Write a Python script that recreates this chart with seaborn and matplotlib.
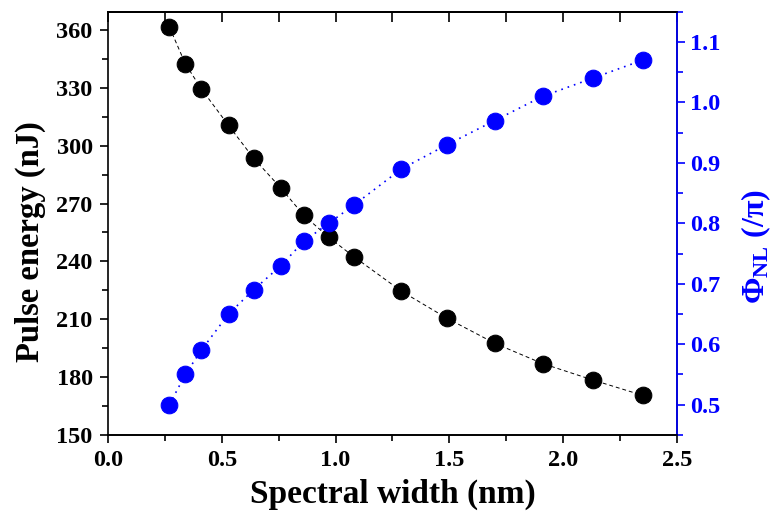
"""Pulse energy and nonlinear phase against spectral width."""

import numpy as np
import pandas as pd
import matplotlib
matplotlib.use("Agg")
import matplotlib.pyplot as plt
import seaborn as sns
from matplotlib.ticker import MultipleLocator, FormatStrFormatter

# data
spectral_width = [0.27, 0.34, 0.41, 0.53, 0.64, 0.76, 0.86, 0.97, 1.08,
                  1.29, 1.49, 1.70, 1.91, 2.13, 2.35]
pulse_energy = [361.5, 342.5, 329.5, 310.5, 293.5, 278, 264, 252.5, 242.5,
                224.5, 210.5, 197.5, 187, 178.5, 170.5]
phi_nl = [0.50, 0.55, 0.59, 0.65, 0.69, 0.73, 0.77, 0.80, 0.83,
          0.89, 0.93, 0.97, 1.01, 1.04, 1.07]

df = pd.DataFrame({"width": spectral_width, "energy": pulse_energy, "phi": phi_nl})

sns.set_theme(style="ticks")
plt.rcParams["font.family"] = ["Liberation Serif", "DejaVu Serif"]
plt.rcParams["font.weight"] = "bold"
plt.rcParams["text.color"] = "black"
plt.rcParams["axes.labelcolor"] = "black"
plt.rcParams["axes.edgecolor"] = "black"
plt.rcParams["xtick.color"] = "black"
plt.rcParams["ytick.color"] = "black"
plt.rcParams["mathtext.fontset"] = "custom"
plt.rcParams["mathtext.rm"] = "Liberation Serif:bold"
plt.rcParams["mathtext.it"] = "Liberation Serif:bold"
plt.rcParams["mathtext.bf"] = "Liberation Serif:bold"

fig = plt.figure(figsize=(7.77, 5.11), dpi=100)
ax = fig.add_axes([0.139, 0.149, 0.732, 0.828])
ax2 = ax.twinx()

sns.lineplot(data=df, x="width", y="energy", ax=ax, color="black",
             linestyle=(0, (4, 3)), linewidth=0.7, marker="o", markersize=12,
             markeredgecolor="black")
sns.lineplot(data=df, x="width", y="phi", ax=ax2, color="blue",
             linestyle=(0, (1, 3)), linewidth=1.2, marker="o", markersize=12,
             markeredgecolor="blue")

ax.set_xlim(0, 2.5)
ax.set_ylim(150, 369.5)
ax2.set_ylim(0.45, 1.15)

ax.xaxis.set_major_locator(MultipleLocator(0.5))
ax.xaxis.set_minor_locator(MultipleLocator(0.25))
ax.yaxis.set_major_locator(MultipleLocator(30))
ax.yaxis.set_minor_locator(MultipleLocator(15))
ax2.yaxis.set_major_locator(MultipleLocator(0.1))
ax2.yaxis.set_minor_locator(MultipleLocator(0.05))
ax.xaxis.set_major_formatter(FormatStrFormatter("%.1f"))
ax2.yaxis.set_major_formatter(FormatStrFormatter("%.1f"))

ax.tick_params(axis="both", which="major", length=6, width=1.2, labelsize=17.5,
               direction="out", top=False)
ax.tick_params(axis="both", which="minor", length=4, width=1.2, direction="out",
               top=False)
ax.tick_params(axis="x", which="major", pad=5)
ax.tick_params(axis="y", which="major", pad=5)
ax2.tick_params(axis="y", which="major", length=6, width=1.2, labelsize=17.5,
                colors="blue", direction="out")
ax2.tick_params(axis="y", which="minor", length=4, width=1.2, colors="blue",
                direction="out")

# top ticks point inward
top = ax.secondary_xaxis("top")
top.xaxis.set_major_locator(MultipleLocator(0.5))
top.xaxis.set_minor_locator(MultipleLocator(0.25))
top.tick_params(which="major", direction="in", length=7, width=1.2, labeltop=False)
top.tick_params(which="minor", direction="in", length=7, width=1.2)

for lab in ax.get_xticklabels() + ax.get_yticklabels() + ax2.get_yticklabels():
    lab.set_fontweight("bold")

for s in ax.spines.values():
    s.set_linewidth(1.2)
for s in ax2.spines.values():
    s.set_linewidth(1.2)
ax2.spines["right"].set_color("blue")
ax2.spines["left"].set_visible(False)

ax.set_xlabel("Spectral width (nm)", fontsize=24, fontweight="bold")
ax.set_ylabel("Pulse energy (nJ)", fontsize=23.5, fontweight="bold")
ax2.set_ylabel(r"$\Phi_{NL}$ (/$\pi$)", fontsize=23, fontweight="bold",
               color="blue")
ax.xaxis.set_label_coords(0.5, -0.103)
ax.yaxis.set_label_coords(-0.109, 0.456)
ax2.yaxis.set_label_coords(1.111, 0.444)

fig.savefig("out.png", dpi=100)
